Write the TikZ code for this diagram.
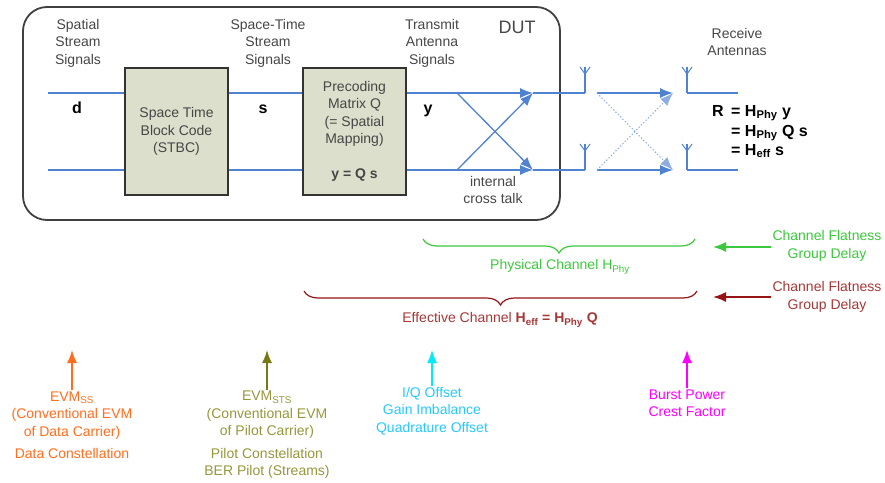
\documentclass[tikz,border=0pt]{standalone}
\usepackage{fontspec}
\setmainfont{Liberation Sans}
\usetikzlibrary{arrows.meta,decorations.pathreplacing}

\definecolor{lblgray}{RGB}{70,70,70}
\definecolor{sigblue}{RGB}{80,130,210}
\definecolor{boxfill}{RGB}{220,223,203}
\definecolor{phygreen}{RGB}{60,200,60}
\definecolor{effred}{RGB}{150,20,20}
\definecolor{ssorange}{RGB}{255,110,30}
\definecolor{stsolive}{RGB}{120,120,20}
\definecolor{ststext}{RGB}{150,150,60}
\definecolor{iqcyan}{RGB}{0,235,245}
\definecolor{iqtext}{RGB}{40,200,255}
\definecolor{pwrmag}{RGB}{255,0,255}

\tikzset{
	lbl/.style={text=lblgray, align=center, inner sep=1pt, font=\fontsize{14}{17.5}\selectfont},
	var/.style={inner sep=1pt, font=\fontsize{16}{19}\selectfont\bfseries},
	block/.style={draw=black!80, line width=1.2pt, fill=boxfill, minimum width=103, minimum height=127,
		text=lblgray, align=center, font=\fontsize{14}{17.5}\selectfont},
	sig/.style={draw=sigblue, line width=1.3pt},
	sigarr/.style={sig, -{Latex[length=13,width=10]}},
	talk/.style={sig, draw=sigblue!65, dotted, line width=1.1pt, -{Latex[length=13,width=10]}},
	antenna/.pic={
		\draw[sig] (0,0) -- (0,-26);
		\draw[sig, line width=1pt] (-5,-26) -- (0,-19) -- (5,-26);
	},
	meas/.style={line width=1.6pt, -{Latex[length=13,width=10]}},
	chbrace/.style={line width=1.2pt, decorate, decoration={brace, mirror, amplitude=14}},
}

\begin{document}
\begin{tikzpicture}[x=1pt,y=-1pt]
	\useasboundingbox (0,0) rectangle (885,482);

	% device under test
	\draw[draw=black!75, line width=1.8pt, rounded corners=24] (23,7) rectangle (560,220);
	\node[lbl, font=\fontsize{18}{21}\selectfont] (dut) at (517,27) {DUT};

	\node[lbl] (sss) at (78,43) {Spatial\\Stream\\Signals};
	\node[lbl] (sts) at (268,43) {Space-Time\\Stream\\Signals};
	\node[lbl] (tas) at (432,43) {Transmit\\Antenna\\Signals};
	\node[lbl] (rxa) at (737,42) {Receive\\Antennas};

	\node[block] (stbc) at (176.5,131.5) {Space Time\\Block Code\\(STBC)};
	\node[block] (prec) at (354.5,131.5) {Precoding\\Matrix Q\\(= Spatial\\Mapping)\\[17.5pt]\textbf{y = Q s}};

	\node[var, anchor=base] (vd) at (77,113) {d};
	\node[var, anchor=base] (vs) at (263,113) {s};
	\node[var, anchor=base] (vy) at (428,113) {y};

	\coordinate (in1) at (48,93);
	\coordinate (in2) at (48,170);
	\coordinate (xa) at (457,93);
	\coordinate (xb) at (457,170);
	\coordinate (xc) at (533,93);
	\coordinate (xd) at (533,170);
	\coordinate (ta) at (585,93);
	\coordinate (tb) at (585,170);

	\draw[sig] (in1) -- (stbc.west|-in1);
	\draw[sig] (in2) -- (stbc.west|-in2);
	\draw[sig] (stbc.east|-in1) -- (prec.west|-in1);
	\draw[sig] (stbc.east|-in2) -- (prec.west|-in2);
	\draw[sig] (prec.east|-in1) -- (xa);
	\draw[sig] (prec.east|-in2) -- (xb);

	% internal cross talk
	\draw[sigarr] (xa) -- (xc);
	\draw[sigarr] (xb) -- (xd);
	\draw[sigarr] (xa) -- (xd);
	\draw[sigarr] (xb) -- (xc);
	\draw[sig] (xc) -- (ta);
	\draw[sig] (xd) -- (tb);
	\node[lbl] (ict) at (493,190) {internal\\cross talk};

	\pic at (ta) {antenna};
	\pic at (tb) {antenna};

	% air
	\coordinate (ra) at (597,93);
	\coordinate (rb) at (597,170);
	\coordinate (rc) at (673,93);
	\coordinate (rd) at (673,170);
	\draw[sigarr] (ra) -- (rc);
	\draw[sigarr] (rb) -- (rd);
	\draw[talk] (ra) -- (rd);
	\draw[talk] (rb) -- (rc);

	\coordinate (rx1) at (687,93);
	\coordinate (rx2) at (687,170);
	\coordinate (rx1e) at (738,93);
	\coordinate (rx2e) at (738,170);
	\pic at (rx1) {antenna};
	\pic at (rx2) {antenna};
	\draw[sig] (rx1) -- (rx1e);
	\draw[sig] (rx2) -- (rx2e);

	\node[var, anchor=base west] (rr) at (711,116) {R};
	\node[var, anchor=base west] (eq1) at (730,116) {= H\textsubscript{Phy} y};
	\node[var, anchor=base west] (eq2) at (730,136) {= H\textsubscript{Phy} Q s};
	\node[var, anchor=base west] (eq3) at (730,155) {= H\textsubscript{eff} s};

	% channels
	\draw[chbrace, draw=phygreen] (423,239) -- (695,239);
	\node[lbl, text=phygreen] (phy) at (560,267) {Physical Channel H\textsubscript{Phy}};
	\draw[chbrace, draw=effred] (304,291) -- (697,291);
	\node[lbl, text=effred!85!white] (eff) at (500,320) {Effective Channel \textbf{H\textsubscript{eff} = H\textsubscript{Phy} Q}};

	\node[lbl, text=phygreen] (cfg) at (827,246) {Channel Flatness\\Group Delay};
	\node[lbl, text=effred!85!white] (cfr) at (827,297) {Channel Flatness\\Group Delay};
	\coordinate (gph) at (713,247);
	\coordinate (gef) at (713,297);
	\draw[meas, draw=phygreen, fill=phygreen] (gph -| cfg.west) -- (gph);
	\draw[meas, draw=effred, fill=effred] (gef -| cfr.west) -- (gef);

	% measurements
	\node[lbl, text=ssorange] (mss) at (72,425) {EVM\textsubscript{SS}\\(Conventional EVM\\of Data Carrier)\\[5pt]Data Constellation};
	\node[lbl, text=ststext] (msts) at (267,435) {EVM\textsubscript{STS}\\(Conventional EVM\\of Pilot Carrier)\\[5pt]Pilot Constellation\\BER Pilot (Streams)};
	\node[lbl, text=iqtext] (miq) at (432,411) {I/Q Offset\\Gain Imbalance\\Quadrature Offset};
	\node[lbl, text=pwrmag] (mpw) at (687,403) {Burst Power\\Crest Factor};
	\coordinate (tss) at (72,350);
	\coordinate (tsts) at (267,350);
	\coordinate (tiq) at (432,350);
	\coordinate (tpw) at (687,350);
	\draw[meas, draw=ssorange, fill=ssorange] (mss.north) -- (tss);
	\draw[meas, draw=stsolive, fill=stsolive] (msts.north) -- (tsts);
	\draw[meas, draw=iqcyan, fill=iqcyan] (miq.north) -- (tiq);
	\draw[meas, draw=pwrmag, fill=pwrmag] (mpw.north) -- (tpw);
\end{tikzpicture}
\end{document}
